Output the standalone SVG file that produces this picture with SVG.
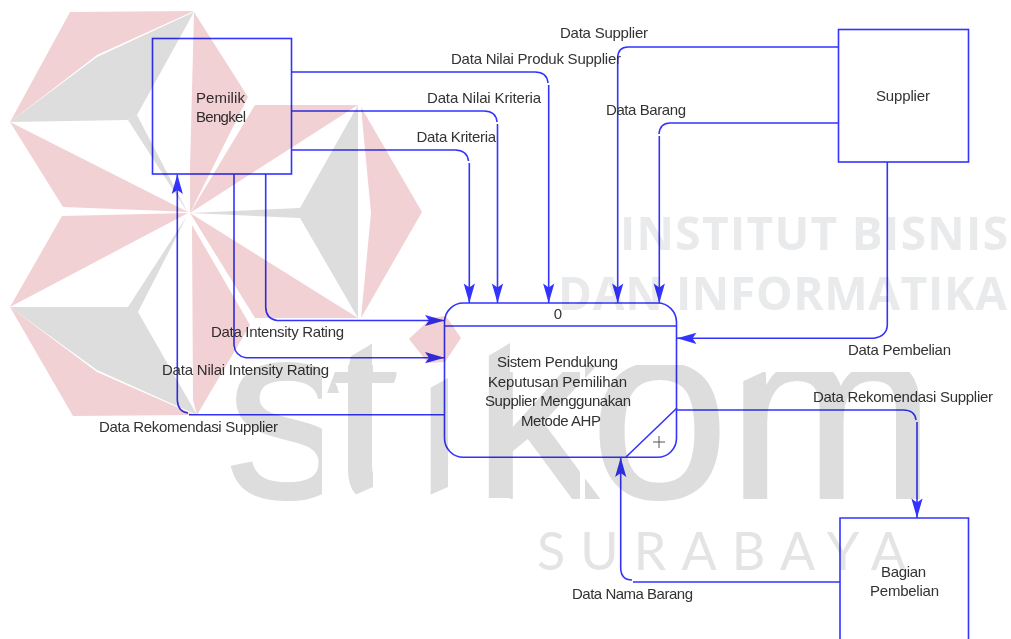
<svg xmlns="http://www.w3.org/2000/svg" width="1011" height="639" viewBox="0 0 1011 639">
<style>
.p{fill:#f2d1d5}
.g{fill:#dddddd}
.wm{font-family:"Open Sans","Liberation Sans",sans-serif;font-weight:700;font-size:46px;fill:#e9eaeb}
.sur{font-family:"Lato","Liberation Sans",sans-serif;font-size:52px;fill:#e4e4e4}
.stk{font-family:"Liberation Sans",sans-serif;font-size:250px;fill:#dddddd;stroke:#dddddd;stroke-width:2}
.c{fill:none;stroke:#3333ff;stroke-width:1.6;marker-end:url(#ah)}
.n{fill:none;stroke:#3333ff;stroke-width:1.6}
.t{font-family:"Liberation Sans",Arial,sans-serif;font-size:15px;fill:#333333}
.diagram{mix-blend-mode:multiply}
</style>
<defs>
<marker id="ah" markerUnits="userSpaceOnUse" markerWidth="22" markerHeight="14" refX="20" refY="7" orient="auto">
<path d="M20 7 L0.5 1.4 L4.5 7 L0.5 12.6 Z" fill="#3333ff"/>
</marker>
<clipPath id="logoClip">
<polygon points="220,360 322,360 322,510 220,510"/>
<polygon points="348,358 373,343 373,372 398,372 390,393 373,393 373,487 348,498 348,393 327,393 335,372 348,372"/>
<polygon points="423,392 448,378 448,487 423,498"/>
<polygon points="485,358 510,343 510,498 485,498"/>
<polygon points="510,372 580,372 580,500 510,500"/>
<polygon points="585,365 730,365 730,510 585,510"/>
<polygon points="735,385 763,372 920,372 920,500 735,500"/>
</clipPath>
</defs>
<rect width="1011" height="639" fill="#ffffff"/>
<g id="watermark">
<polygon class="p" points="70,12 194,11 97,55 10,122"/>
<polygon class="g" points="194,12 137,115 128,120 10,122 97,57"/>
<polygon class="p" points="194,12 248,97 190,213 190,167"/>
<polygon class="p" points="10,122 188,212 167,211 63,207"/>
<polygon class="g" points="128,120 188,213 137,115"/>
<polygon class="p" points="62,216 188,213 10,307"/>
<polygon class="p" points="255,105 358,105 190,213"/>
<polygon class="g" points="358,105 300,208 190,213 300,218 358,318"/>
<polygon class="p" points="361,107 422,212 361,318 371,213"/>
<polygon class="p" points="190,213 358,318 255,318"/>
<polygon class="p" points="192,225 250,325 197,415 193,400"/>
<polygon class="g" points="10,307 128,307 187,216 138,312 197,415 97,370"/>
<polygon class="p" points="10,307 97,372 195,415 73,416"/>
<polygon class="p" points="431,318 409,339 428,363 445,362 461,338 446,316"/>
<g clip-path="url(#logoClip)"><text class="stk" x="225 330 408 473 590 727" y="498">stıkom</text></g>
<text class="wm" x="620" y="250" textLength="388">INSTITUT BISNIS</text>
<text class="wm" x="558" y="310" textLength="449">DAN INFORMATIKA</text>
<text class="sur" x="537" y="570" textLength="369">SURABAYA</text>
</g>
<g class="diagram">
<g id="connectors">
<path class="c" d="M292 72 H535 Q547 72 548 83 M548.7 85 V303"/>
<path class="c" d="M292 111 H484 Q496 111 497 122 M497.5 124 V303"/>
<path class="c" d="M292 150 H455 Q467 150 468.5 161 M469.3 163 V303"/>
<path class="c" d="M838 47 H628 Q618 47 617.7 58 V303"/>
<path class="c" d="M838 123 H670 Q660 123 659 134 M659.3 136 V303"/>
<path class="c" d="M887.3 162 V325 Q887 336 874 338.3 H677"/>
<path class="c" d="M677 410 H903 Q915 410 916 420 M917 422 V518"/>
<path class="c" d="M840 582 H633 M632 580 Q621 580 620.7 568 V457.5"/>
<path class="c" d="M444.5 414.7 H189 M188 413 Q178 412 177.3 400 V174.5"/>
<path class="c" d="M265.7 174 V307 Q266 319 277 320.5 H444.5"/>
<path class="c" d="M234 174 V345 Q235 356 246 357.7 H444.5"/>
</g>
<g id="pemilik">
<rect class="n" x="152.5" y="38.5" width="139" height="135.5"/>
<text class="t" x="196" y="103" textLength="49">Pemilik</text>
<text class="t" x="196" y="122" textLength="50">Bengkel</text>
</g>
<g id="supplier">
<rect class="n" x="838.5" y="29.5" width="130" height="132.5"/>
<text class="t" x="876" y="101" textLength="54">Supplier</text>
</g>
<g id="bagian">
<path class="n" d="M840 645 V518 H968.5 V645"/>
<text class="t" x="881" y="577" textLength="45">Bagian</text>
<text class="t" x="870" y="596" textLength="69">Pembelian</text>
</g>
<g id="process">
<rect class="n" x="444.5" y="303" width="232" height="154.3" rx="19" ry="19"/>
<path class="n" d="M444.5 326 H676.5 M677 408 L626 457"/>
<path d="M653 442 H665 M659 436 V448" fill="none" stroke="#555555" stroke-width="1"/>
<text class="t" x="558" y="319" text-anchor="middle">0</text>
<text class="t" x="497" y="367" textLength="121">Sistem Pendukung</text>
<text class="t" x="488" y="387" textLength="139">Keputusan Pemilihan</text>
<text class="t" x="485" y="406" textLength="146">Supplier Menggunakan</text>
<text class="t" x="521" y="426" textLength="80">Metode AHP</text>
</g>
<g id="labels">
<text class="t" x="560" y="38" textLength="88">Data Supplier</text>
<text class="t" x="451" y="64" textLength="170">Data Nilai Produk Supplier</text>
<text class="t" x="427" y="103" textLength="114">Data Nilai Kriteria</text>
<text class="t" x="416.5" y="142" textLength="79.5">Data Kriteria</text>
<text class="t" x="606" y="115" textLength="80">Data Barang</text>
<text class="t" x="211" y="337" textLength="133">Data Intensity Rating</text>
<text class="t" x="162" y="375" textLength="167">Data Nilai Intensity Rating</text>
<text class="t" x="99" y="432" textLength="179">Data Rekomendasi Supplier</text>
<text class="t" x="848" y="355" textLength="103">Data Pembelian</text>
<text class="t" x="813" y="402" textLength="180">Data Rekomendasi Supplier</text>
<text class="t" x="572" y="599" textLength="121">Data Nama Barang</text>
</g>
</g>
</svg>
